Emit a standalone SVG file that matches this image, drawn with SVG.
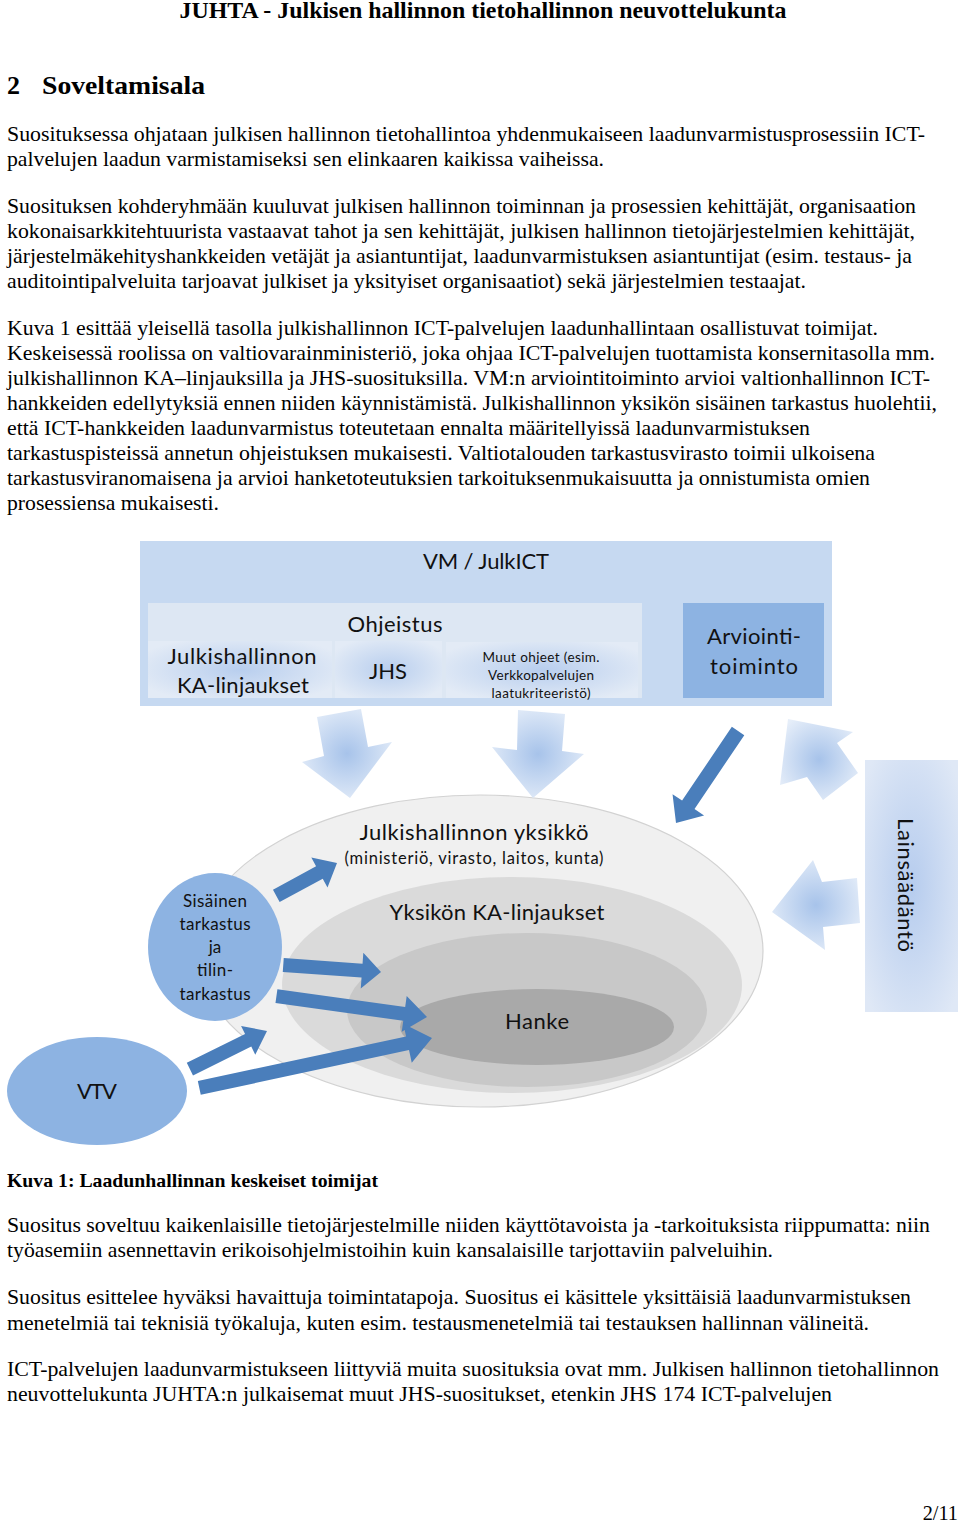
<svg xmlns="http://www.w3.org/2000/svg" width="960" height="1522" viewBox="0 0 960 1522">
<style>
.b{font-family:"Liberation Serif","Times New Roman",serif;font-size:20.3px;fill:#000}
.bb{font-family:"Liberation Serif","Times New Roman",serif;font-weight:bold;fill:#000}
.d{font-family:Lato,"Open Sans","Noto Sans",sans-serif;fill:#111;text-anchor:middle}
.f22{font-size:22px}
.f17{font-size:17px}
.f14{font-size:13.5px}
.dark{fill:#4a7ebb}
.soft{fill:url(#gArrow)}
</style>
<defs>
<radialGradient id="gArrow" cx="50%" cy="50%" r="60%">
<stop offset="0" stop-color="#a7c3ea"/>
<stop offset="1" stop-color="#e6eef9"/>
</radialGradient>
<radialGradient id="gSub" cx="50%" cy="50%" r="60%">
<stop offset="0" stop-color="#b8ceee"/>
<stop offset="1" stop-color="#e3ebf6"/>
</radialGradient>
<radialGradient id="gLaw" cx="50%" cy="50%" r="65%">
<stop offset="0" stop-color="#b6ccee"/>
<stop offset="1" stop-color="#dfe8f6"/>
</radialGradient>
</defs>
<rect width="960" height="1522" fill="#fff"/>

<g id="page-text">
<text class="bb" x="483" y="18" font-size="23" text-anchor="middle" textLength="607" lengthAdjust="spacingAndGlyphs">JUHTA - Julkisen hallinnon tietohallinnon neuvottelukunta</text>
<text class="bb" x="7" y="94" font-size="26">2</text>
<text class="bb" x="42" y="94" font-size="26" textLength="163" lengthAdjust="spacingAndGlyphs">Soveltamisala</text>

<text class="b" x="7" y="141" textLength="918" lengthAdjust="spacingAndGlyphs">Suosituksessa ohjataan julkisen hallinnon tietohallintoa yhdenmukaiseen laadunvarmistusprosessiin ICT-</text>
<text class="b" x="7" y="166" textLength="597" lengthAdjust="spacingAndGlyphs">palvelujen laadun varmistamiseksi sen elinkaaren kaikissa vaiheissa.</text>

<text class="b" x="7" y="213" textLength="909" lengthAdjust="spacingAndGlyphs">Suosituksen kohderyhmään kuuluvat julkisen hallinnon toiminnan ja prosessien kehittäjät, organisaation</text>
<text class="b" x="7" y="238" textLength="908" lengthAdjust="spacingAndGlyphs">kokonaisarkkitehtuurista vastaavat tahot ja sen kehittäjät, julkisen hallinnon tietojärjestelmien kehittäjät,</text>
<text class="b" x="7" y="263" textLength="905" lengthAdjust="spacingAndGlyphs">järjestelmäkehityshankkeiden vetäjät ja asiantuntijat, laadunvarmistuksen asiantuntijat (esim. testaus- ja</text>
<text class="b" x="7" y="288" textLength="799" lengthAdjust="spacingAndGlyphs">auditointipalveluita tarjoavat julkiset ja yksityiset organisaatiot) sekä järjestelmien testaajat.</text>

<text class="b" x="7" y="335" textLength="871" lengthAdjust="spacingAndGlyphs">Kuva  1 esittää yleisellä tasolla julkishallinnon ICT-palvelujen laadunhallintaan osallistuvat toimijat.</text>
<text class="b" x="7" y="360" textLength="928" lengthAdjust="spacingAndGlyphs">Keskeisessä roolissa on valtiovarainministeriö, joka ohjaa ICT-palvelujen tuottamista konsernitasolla mm.</text>
<text class="b" x="7" y="385" textLength="923" lengthAdjust="spacingAndGlyphs">julkishallinnon KA–linjauksilla ja JHS-suosituksilla. VM:n arviointitoiminto arvioi valtionhallinnon ICT-</text>
<text class="b" x="7" y="410" textLength="930" lengthAdjust="spacingAndGlyphs">hankkeiden edellytyksiä ennen niiden käynnistämistä. Julkishallinnon yksikön sisäinen tarkastus huolehtii,</text>
<text class="b" x="7" y="435" textLength="803" lengthAdjust="spacingAndGlyphs">että ICT-hankkeiden laadunvarmistus toteutetaan ennalta määritellyissä laadunvarmistuksen</text>
<text class="b" x="7" y="460" textLength="868" lengthAdjust="spacingAndGlyphs">tarkastuspisteissä annetun ohjeistuksen mukaisesti. Valtiotalouden tarkastusvirasto toimii ulkoisena</text>
<text class="b" x="7" y="485" textLength="863" lengthAdjust="spacingAndGlyphs">tarkastusviranomaisena ja arvioi hanketoteutuksien tarkoituksenmukaisuutta ja onnistumista omien</text>
<text class="b" x="7" y="510" textLength="212" lengthAdjust="spacingAndGlyphs">prosessiensa mukaisesti.</text>

<text class="bb" x="7" y="1187" font-size="19.5" textLength="371" lengthAdjust="spacingAndGlyphs">Kuva 1: Laadunhallinnan keskeiset toimijat</text>

<text class="b" x="7" y="1232" textLength="923" lengthAdjust="spacingAndGlyphs">Suositus soveltuu kaikenlaisille tietojärjestelmille niiden käyttötavoista ja -tarkoituksista riippumatta: niin</text>
<text class="b" x="7" y="1257" textLength="766" lengthAdjust="spacingAndGlyphs">työasemiin asennettavin erikoisohjelmistoihin kuin kansalaisille tarjottaviin palveluihin.</text>

<text class="b" x="7" y="1304" textLength="904" lengthAdjust="spacingAndGlyphs">Suositus esittelee hyväksi havaittuja toimintatapoja. Suositus ei käsittele yksittäisiä laadunvarmistuksen</text>
<text class="b" x="7" y="1330" textLength="862" lengthAdjust="spacingAndGlyphs">menetelmiä tai teknisiä työkaluja, kuten esim. testausmenetelmiä tai testauksen hallinnan välineitä.</text>

<text class="b" x="7" y="1376" textLength="932" lengthAdjust="spacingAndGlyphs">ICT-palvelujen laadunvarmistukseen liittyviä muita suosituksia ovat mm. Julkisen hallinnon tietohallinnon</text>
<text class="b" x="7" y="1401" textLength="825" lengthAdjust="spacingAndGlyphs">neuvottelukunta JUHTA:n julkaisemat muut JHS-suositukset, etenkin JHS 174 ICT-palvelujen</text>

<text class="b" x="958" y="1520" text-anchor="end" font-size="19">2/11</text>
</g>

<g id="vm-julkict">
<rect x="140" y="541" width="692" height="165" fill="#c6d9f1"/>
<text class="d f22" x="486" y="569" textLength="126">VM / JulkICT</text>
</g>

<g id="ohjeistus">
<rect x="148" y="603" width="494" height="95" fill="#dde7f3"/>
<text class="d f22" x="395" y="632" textLength="95">Ohjeistus</text>
</g>

<g id="ka-linjaukset">
<rect x="148" y="641" width="184" height="57" fill="url(#gSub)"/>
<text class="d f22" x="242" y="664" textLength="149">Julkishallinnon</text>
<text class="d f22" x="243" y="693" textLength="132">KA-linjaukset</text>
</g>

<g id="jhs">
<rect x="335" y="641" width="107" height="57" fill="url(#gSub)"/>
<text class="d f22" x="388" y="679">JHS</text>
</g>

<g id="muut-ohjeet">
<rect x="446" y="642" width="192" height="56" fill="url(#gSub)"/>
<text class="d f14" x="541" y="662" textLength="117">Muut ohjeet (esim.</text>
<text class="d f14" x="541" y="680" textLength="106">Verkkopalvelujen</text>
<text class="d f14" x="541" y="698" textLength="99">laatukriteeristö)</text>
</g>

<g id="arviointitoiminto">
<rect x="683" y="603" width="141" height="95" fill="#8db3e2"/>
<text class="d f22" x="754" y="644" textLength="94">Arviointi-</text>
<text class="d f22" x="754" y="674" textLength="88">toiminto</text>
</g>

<g id="lainsaadanto">
<rect x="865" y="760" width="93" height="252" fill="url(#gLaw)"/>
<text class="d f22" transform="translate(898,885) rotate(90)" x="0" y="0" textLength="134">Lainsäädäntö</text>
</g>

<g id="julkishallinnon-yksikko">
<ellipse cx="480" cy="951" rx="283" ry="156" fill="#f0f0f0" stroke="#d2d2d2" stroke-width="1.2"/>
<text class="d f22" x="474" y="840" textLength="229">Julkishallinnon yksikkö</text>
<text class="d" x="474" y="864" font-size="16.5" textLength="259">(ministeriö, virasto, laitos, kunta)</text>
</g>

<g id="yksikon-ka-linjaukset">
<ellipse cx="512" cy="985" rx="230" ry="108" fill="#dadada"/>
<text class="d f22" x="497" y="920" textLength="215">Yksikön KA-linjaukset</text>
</g>

<g id="taso3">
<ellipse cx="527" cy="1010" rx="180" ry="77" fill="#c8c8c8"/>
</g>

<g id="hanke">
<ellipse cx="537" cy="1027" rx="137" ry="38" fill="#a9a9a9"/>
<text class="d f22" x="537" y="1029" textLength="64">Hanke</text>
</g>

<g id="sisainen-tarkastus">
<ellipse cx="215" cy="947" rx="67" ry="74" fill="#8db3e2"/>
<text class="d f17" x="215" y="907" textLength="64">Sisäinen</text>
<text class="d f17" x="215" y="930" textLength="71">tarkastus</text>
<text class="d f17" x="215" y="953">ja</text>
<text class="d f17" x="215" y="976" textLength="36">tilin-</text>
<text class="d f17" x="215" y="1000" textLength="71">tarkastus</text>
</g>

<g id="vtv">
<ellipse cx="97" cy="1091" rx="90" ry="54" fill="#8db3e2"/>
<text class="d f22" x="97" y="1099" textLength="40">VTV</text>
</g>

<g id="connectors">
<polygon class="soft" points="317,717 361,709 368,747 392,742 350,798 302,762 324,756"/>
<polygon class="soft" points="518,710 565,714 562,751 584,754 533,798 492,747 517,750"/>
<polygon class="soft" points="788,719 853,732 837,743 858,773 823,800 807,777 780,785"/>
<polygon class="soft" points="772,912 813,860 822,882 857,878 860,923 823,927 825,950"/>
<polygon class="dark" transform="translate(676,823) rotate(124)" points="-111,-7.5 -22,-7.5 -22,-19 0,0 -22,19 -22,7.5 -111,7.5"/>
<polygon class="dark" transform="translate(337,863) rotate(-28.4)" points="-69,-7 -20,-7 -20,-17 0,0 -20,17 -20,7 -69,7"/>
<polygon class="dark" transform="translate(381,972) rotate(4.1)" points="-98,-7 -19,-7 -19,-18 0,0 -19,18 -19,7 -98,7"/>
<polygon class="dark" transform="translate(427,1017) rotate(7.9)" points="-152,-7 -23,-7 -23,-18 0,0 -23,18 -23,7 -152,7"/>
<polygon class="dark" transform="translate(267,1031) rotate(-26.3)" points="-86,-7 -21,-7 -21,-16 0,0 -21,16 -21,7 -86,7"/>
<polygon class="dark" transform="translate(432,1038) rotate(-12.1)" points="-238,-7 -25,-7 -25,-20 0,0 -25,20 -25,7 -238,7"/>
</g>
</svg>
